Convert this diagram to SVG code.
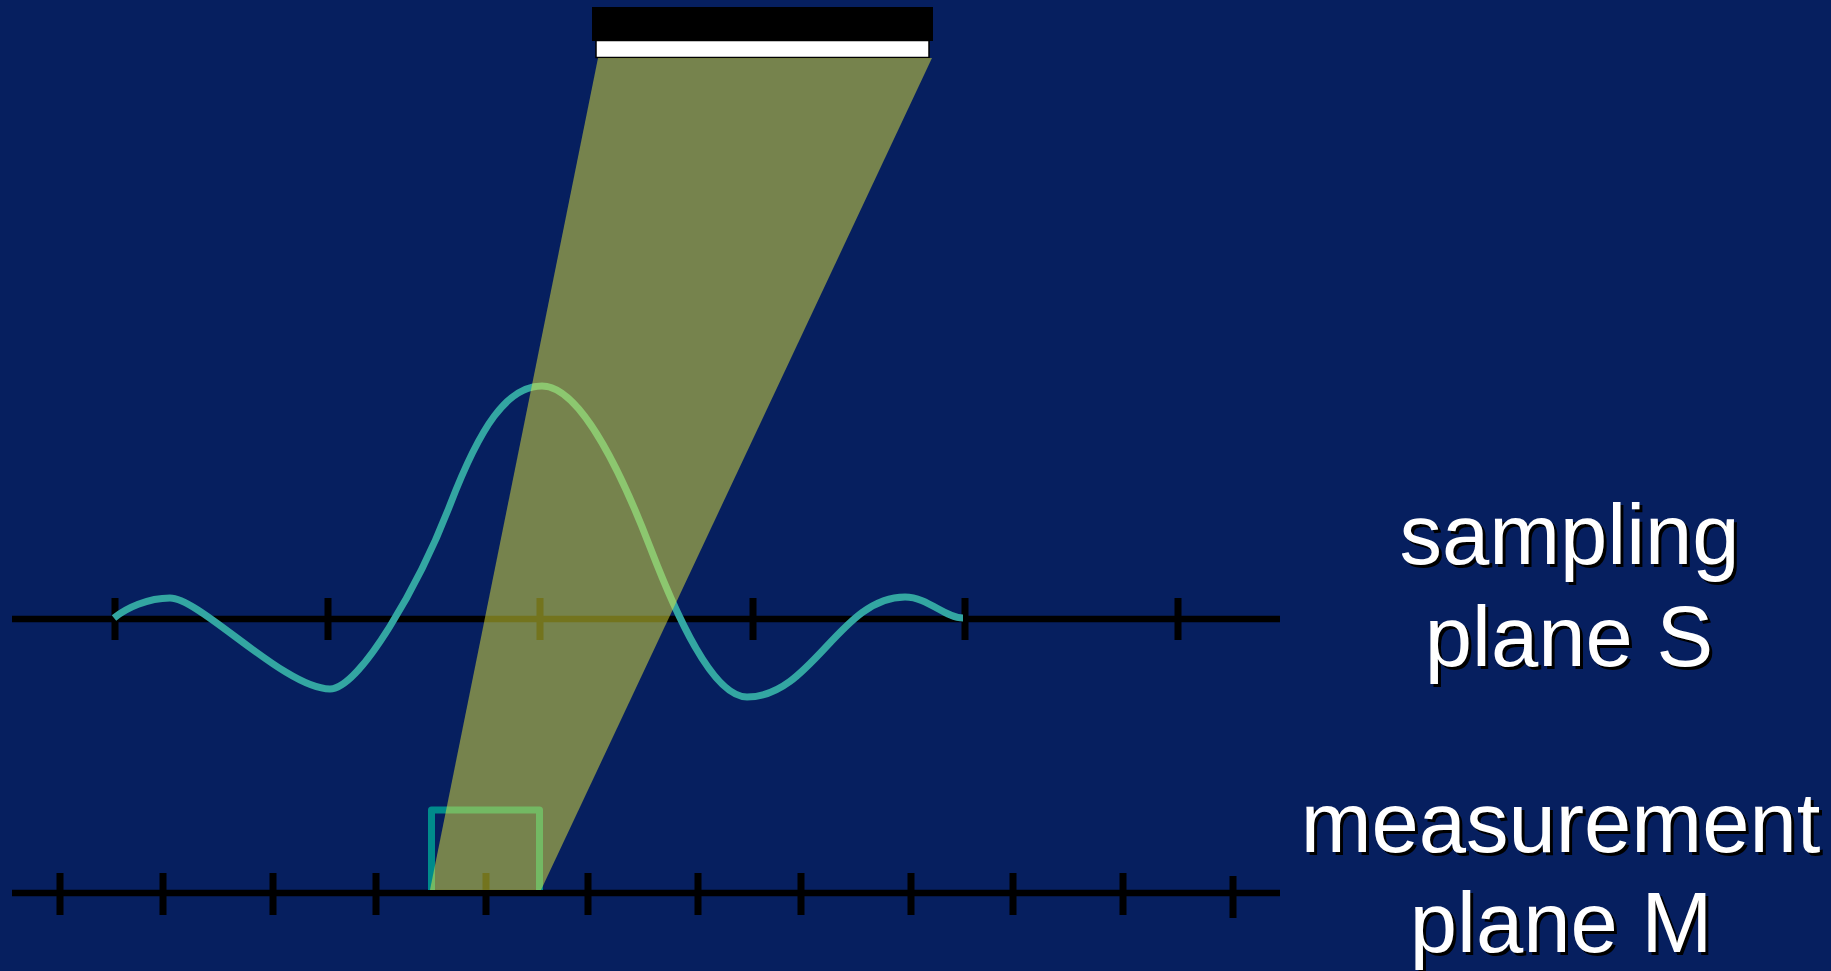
<svg xmlns="http://www.w3.org/2000/svg" width="1831" height="971" viewBox="0 0 1831 971">
<style>
.axis{stroke:#000;stroke-width:6.5;fill:none}
.tick{stroke:#000;stroke-width:7;fill:none}
.lbl{font-family:"Liberation Sans",Arial,sans-serif;font-size:85px;text-anchor:middle}
.shadow{fill:#000}
.front{fill:#fff}
</style>
<rect x="0" y="0" width="1831" height="971" fill="#061F5F"/>
<g id="source">
<rect x="592" y="7" width="341" height="34" fill="#000"/>
<rect x="596" y="40.5" width="333" height="17" fill="#fff" stroke="#000" stroke-width="1.5"/>
</g>
<g id="sampling-plane">
<line class="axis" x1="12" y1="619" x2="1280" y2="619"/>
<path class="tick" d="M115 598V640M328 598V640M540 598V640M753 598V640M965 598V640M1178 598V640"/>
</g>
<g id="measurement-plane">
<line class="axis" x1="12" y1="893" x2="1280" y2="893"/>
<path class="tick" d="M60 873V915M163 873V915M273 873V915M376 873V915M486 873V915M588 873V915M698 873V915M801 873V915M911 873V915M1013 873V915M1123 873V915M1233 876V918"/>
</g>
<g id="connectors">
<path id="psf-curve" d="M114 618C126 608 148 598 170 598C200 598 285 689 330 689C360 689 420 583 450 505C480 427 507 386 542 386C582 386 625 482 650 547C675 612 712 697 747 697C812 697 840 597 905 597C928 597 945 618 963 618" fill="none" stroke="#33A6A2" stroke-width="7" stroke-linecap="butt"/>
<path id="pixel-box" d="M431.5 890V810H539.5V890" fill="none" stroke="#008B8B" stroke-width="7" stroke-linejoin="round"/>
</g>
<g id="beam">
<polygon points="598,58 932,58 541,890 430,890" fill="rgb(230,232,60)" fill-opacity="0.5"/>
</g>
<g id="label-sampling">
<text class="lbl shadow" x="1572.5" y="567">sampling</text>
<text class="lbl shadow" x="1572" y="668.5">plane S</text>
<text class="lbl front" x="1569.5" y="564">sampling</text>
<text class="lbl front" x="1569" y="665.5">plane S</text>
</g>
<g id="label-measurement">
<text class="lbl shadow" x="1563.5" y="855">measurement</text>
<text class="lbl shadow" x="1564" y="954.5">plane M</text>
<text class="lbl front" x="1560.5" y="852">measurement</text>
<text class="lbl front" x="1561" y="951.5">plane M</text>
</g>
</svg>
